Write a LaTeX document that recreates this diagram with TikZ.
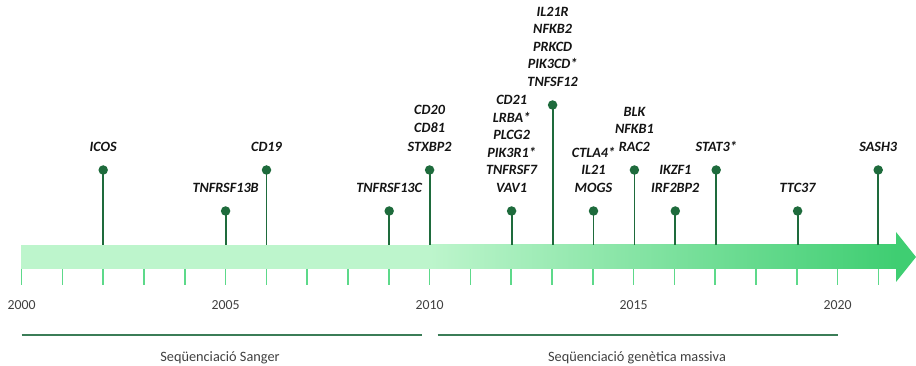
\documentclass[tikz,border=0pt]{standalone}
\usepackage{fontspec}
\setmainfont{Carlito}
\definecolor{barlight}{HTML}{BDF5CC}
\definecolor{bardark}{HTML}{3FCE72}
\definecolor{tickc}{HTML}{5DD98A}
\definecolor{stemc}{HTML}{1E6B3C}
\definecolor{erac}{HTML}{3B7D57}
\definecolor{yearc}{HTML}{404040}
\definecolor{genec}{HTML}{141414}
\begin{document}
\begin{tikzpicture}[x=1pt,y=-1pt,
  stem/.style={draw=stemc,line width=1.8pt},
  dot/.style={circle,fill=stemc,inner sep=0pt,minimum size=9.5pt},
  gene/.style={font=\fontsize{14.2}{17.5}\selectfont\bfseries\itshape,text=genec,align=center,inner sep=0pt,anchor=south},
  yearlbl/.style={font=\fontsize{13.8}{16}\selectfont,text=yearc,inner sep=0pt,anchor=base},
  tickl/.style={draw=tickc,line width=1.5pt},
  era/.style={draw=erac,line width=2pt},
  eralbl/.style={font=\fontsize{14.3}{16}\selectfont,text=yearc,inner sep=0pt,anchor=base}]
\useasboundingbox (0,0) rectangle (916,366);
% bar
\fill[barlight] (21,245) rectangle (431,269);
\shade[left color=barlight,right color=bardark] (430,245) rectangle (896.5,269);
\fill[bardark] (896,232) -- (916,257) -- (896,282) -- cycle;
% ticks
\foreach \i in {0,...,21}
  \draw[tickl] ({21.6+40.8*\i},269) -- ({21.6+40.8*\i},285);
% years
\node[yearlbl] (y2000) at (21.6,309.5) {2000};
\node[yearlbl] (y2005) at (225.6,309.5) {2005};
\node[yearlbl] (y2010) at (429.6,309.5) {2010};
\node[yearlbl] (y2015) at (633.6,309.5) {2015};
\node[yearlbl] (y2020) at (837.6,309.5) {2020};
% eras
\coordinate (s1) at (21.5,335);
\coordinate (s2) at (422,335);
\coordinate (m1) at (437.7,335);
\coordinate (m2) at (838,335);
\draw[era] (s1) -- (s2);
\draw[era] (m1) -- (m2);
\node[eralbl] (sanger) at (220,361.5) {Seqüenciació Sanger};
\node[eralbl] (massiva) at (637,361.5) {Seqüenciació genètica massiva};
% events
\newcommand{\evt}[4]{% name, x, doty, text
  \coordinate (b#1) at (#2,245);
  \node[dot] (d#1) at (#2,#3) {};
  \draw[stem] (b#1) -- (d#1.center);
  \node[gene] (t#1) at (#2,#3-18.5) {#4};
}
\evt{2002}{103.2}{170}{ICOS}
\evt{2005}{225.6}{211}{TNFRSF13B}
\evt{2006}{266.5}{170}{CD19}
\evt{2009}{389.2}{211}{TNFRSF13C}
\coordinate (b2010) at (429.6,245);
\node[dot] (d2010) at (429.6,170) {};
\draw[stem] (b2010) -- (d2010.center);
\node[gene,font=\fontsize{14.2}{18.6}\selectfont\bfseries\itshape] (t2010) at (429.6,151.5) {CD20\\CD81\\STXBP2};
\evt{2012}{511.6}{211}{CD21\\LRBA*\\PLCG2\\PIK3R1*\\TNFRSF7\\VAV1}
\evt{2013}{552.6}{105}{IL21R\\NFKB2\\PRKCD\\PIK3CD*\\TNFSF12}
\evt{2014}{593.5}{211}{CTLA4*\\IL21\\MOGS}
\evt{2015}{634.4}{170}{BLK\\NFKB1\\RAC2}
\evt{2016}{675.3}{211}{IKZF1\\IRF2BP2}
\evt{2017}{716.2}{170}{STAT3*}
\evt{2019}{797.6}{211}{TTC37}
\evt{2021}{878.2}{170}{SASH3}
\end{tikzpicture}
\end{document}
